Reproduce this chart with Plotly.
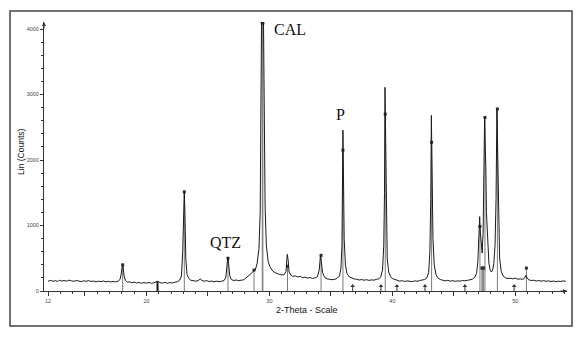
import plotly.graph_objects as go

two_theta = [
    12.0, 12.2, 12.4, 12.6, 12.8, 12.9, 13.1, 13.3, 13.5, 13.7, 13.9, 14.1, 14.3, 14.5, 14.7, 14.9,
    15.1, 15.3, 15.5, 15.7, 15.9, 16.1, 16.3, 16.5, 16.7, 16.9, 17.1, 17.3, 17.5, 17.7, 17.85, 17.95,
    18.05, 18.1, 18.18, 18.3, 18.45, 18.6, 18.8, 19.0, 19.2, 19.4, 19.6, 19.8, 20.0, 20.2, 20.4, 20.6,
    20.8, 20.95, 21.1, 21.3, 21.5, 21.7, 21.9, 22.1, 22.3, 22.5, 22.7, 22.85, 22.95, 23.03, 23.08, 23.13,
    23.2, 23.3, 23.45, 23.6, 23.8, 24.0, 24.2, 24.4, 24.5, 24.7, 24.9, 25.1, 25.3, 25.5, 25.7, 25.9,
    26.1, 26.3, 26.45, 26.55, 26.62, 26.68, 26.78, 26.9, 27.1, 27.3, 27.5, 27.7, 27.9, 28.1, 28.3, 28.5,
    28.65, 28.75, 28.85, 29.0, 29.15, 29.25, 29.32, 29.36, 29.52, 29.57, 29.65, 29.75, 29.9, 30.05, 30.2, 30.4,
    30.6, 30.8, 31.0, 31.2, 31.35, 31.45, 31.52, 31.6, 31.75, 31.9, 32.1, 32.3, 32.5, 32.7, 32.9, 33.1,
    33.3, 33.5, 33.7, 33.9, 34.05, 34.15, 34.22, 34.32, 34.5, 34.7, 34.9, 35.1, 35.3, 35.5, 35.7, 35.82,
    35.9, 35.95, 35.98, 36.02, 36.08, 36.18, 36.3, 36.5, 36.7, 36.9, 37.1, 37.3, 37.5, 37.7, 37.9, 38.1,
    38.3, 38.5, 38.7, 38.9, 39.05, 39.2, 39.3, 39.36, 39.4, 39.44, 39.5, 39.58, 39.7, 39.85, 40.0, 40.2,
    40.4, 40.6, 40.8, 41.0, 41.2, 41.4, 41.6, 41.8, 42.0, 42.2, 42.4, 42.6, 42.8, 42.95, 43.05, 43.12,
    43.17, 43.22, 43.3, 43.4, 43.55, 43.7, 43.9, 44.1, 44.3, 44.5, 44.7, 44.9, 45.1, 45.3, 45.5, 45.7,
    45.9, 46.1, 46.3, 46.5, 46.7, 46.85, 46.95, 47.05, 47.1, 47.15, 47.22, 47.3, 47.38, 47.45, 47.5, 47.55,
    47.6, 47.65, 47.75, 47.85, 47.95, 48.05, 48.15, 48.25, 48.35, 48.43, 48.5, 48.55, 48.62, 48.72, 48.85, 49.0,
    49.2, 49.4, 49.6, 49.8, 50.0, 50.2, 50.4, 50.6, 50.75, 50.85, 50.95, 51.1, 51.3, 51.5, 51.7, 51.9,
    52.1, 52.3, 52.5, 52.7, 52.9, 53.1, 53.3, 53.5, 53.7, 53.9, 54.1,
]
counts = [
    150, 162, 148, 158, 145, 165, 152, 160, 150, 166, 155, 148, 160, 152, 144, 155,
    149, 158, 146, 152, 140, 150, 144, 152, 140, 148, 138, 146, 140, 150, 175, 260,
    405, 380, 230, 160, 135, 140, 128, 136, 122, 130, 118, 128, 120, 130, 118, 126,
    140, 150, 128, 120, 132, 118, 128, 122, 135, 140, 165, 230, 600, 1300, 1515, 1200,
    500, 250, 190, 165, 155, 150, 158, 185, 160, 150, 158, 145, 152, 140, 150, 142,
    150, 158, 200, 380, 520, 420, 230, 175, 160, 168, 158, 165, 170, 200, 230, 265,
    290, 315, 320, 420, 650, 1200, 2500, 4100, 4100, 2600, 1300, 700, 450, 370, 320, 285,
    265, 255, 245, 250, 300, 560, 480, 290, 240, 225, 230, 215, 222, 205, 212, 198,
    205, 192, 200, 215, 320, 540, 450, 280, 205, 185, 178, 172, 178, 192, 230, 350,
    700, 1500, 2455, 1800, 800, 400, 270, 215, 195, 185, 178, 168, 175, 165, 172, 162,
    170, 165, 178, 185, 215, 320, 700, 1500, 3110, 2400, 1100, 500, 290, 220, 190, 175,
    165, 150, 158, 145, 155, 150, 142, 155, 148, 158, 165, 175, 200, 280, 600, 1400,
    2680, 2000, 800, 400, 250, 200, 175, 165, 155, 162, 150, 158, 148, 155, 150, 160,
    155, 162, 170, 180, 210, 270, 450, 900, 1135, 900, 650, 580, 900, 1700, 2650, 2200,
    1900, 1200, 650, 420, 320, 290, 320, 420, 700, 1400, 2780, 2200, 1000, 500, 300, 230,
    200, 190, 195, 185, 195, 180, 185, 178, 195, 240, 200, 170, 160, 165, 152, 160,
    150, 158, 148, 155, 145, 152, 142, 150, 145, 155, 148,
]

# reference sticks with a marker on top
stick_pos = [18.07, 23.08, 26.63, 28.75, 29.42, 29.47, 31.47, 34.2, 35.98, 39.42,
             43.19, 47.12, 47.28, 47.35, 47.42, 47.53, 48.54, 50.9]
stick_height = [400, 1515, 500, 320, 4090, 4090, 380, 545, 2150, 2700,
                2270, 985, 350, 350, 350, 2650, 2780, 350]

# dark stick at 20.9 and small reference arrows along the base
dark_pos = [20.9]
dark_height = [150]
small_pos = [36.77, 39.07, 40.37, 42.65, 45.9, 49.9]
small_height = [75, 75, 75, 75, 75, 75]


def sticks(pos, height):
    xs, ys = [], []
    for p, h in zip(pos, height):
        xs += [p, p, None]
        ys += [0, h, None]
    return xs, ys


fig = go.Figure()

sx, sy = sticks(stick_pos, stick_height)
fig.add_trace(go.Scatter(x=sx, y=sy, mode='lines',
                         line=dict(color='#7a7a7a', width=1), hoverinfo='skip'))
fig.add_trace(go.Scatter(x=stick_pos, y=stick_height, mode='markers',
                         marker=dict(color='#333333', size=3, symbol='square'), hoverinfo='skip'))

dx, dy = sticks(dark_pos, dark_height)
fig.add_trace(go.Scatter(x=dx, y=dy, mode='lines',
                         line=dict(color='#111111', width=2), hoverinfo='skip'))

mx, my = sticks(small_pos, small_height)
fig.add_trace(go.Scatter(x=mx, y=my, mode='lines',
                         line=dict(color='#333333', width=1), hoverinfo='skip'))
fig.add_trace(go.Scatter(x=small_pos, y=small_height, mode='markers',
                         marker=dict(color='#333333', size=4, symbol='triangle-up'), hoverinfo='skip'))

# measured scan
fig.add_trace(go.Scatter(x=two_theta, y=counts, mode='lines',
                         line=dict(color='#1a1a1a', width=1), hoverinfo='skip'))

serif = dict(family='Liberation Serif, Times New Roman, serif', size=16, color='#111111')
fig.add_annotation(x=30.2, y=4000, text='CAL', showarrow=False, xanchor='left', font=serif)
fig.add_annotation(x=26.45, y=740, text='QTZ', showarrow=False, font=serif)
fig.add_annotation(x=35.8, y=2700, text='P', showarrow=False, font=serif)

# axis titles placed by hand (closer to the axes than plotly's standoff allows)
fig.add_annotation(xref='paper', yref='paper', x=-0.044, y=0.517, text='Lin (Counts)',
                   textangle=-90, showarrow=False, xanchor='center', yanchor='middle',
                   font=dict(family='Liberation Sans, Arial, sans-serif', size=8.5, color='#111111'))
fig.add_annotation(xref='paper', yref='paper', x=0.503, y=-0.07, text='2-Theta - Scale',
                   showarrow=False, xanchor='center', yanchor='middle',
                   font=dict(family='Liberation Sans, Arial, sans-serif', size=9, color='#111111'))

# axis arrow heads
fig.add_annotation(x=54.2, y=0, ax=-8, ay=0, showarrow=True, arrowhead=2,
                   arrowsize=0.8, arrowwidth=1, arrowcolor='#333333', text='')
fig.add_annotation(x=11.67, y=4107, ax=0, ay=8, showarrow=True, arrowhead=2,
                   arrowsize=0.8, arrowwidth=1, arrowcolor='#333333', text='')

# outer frame of the figure
fig.add_shape(type='rect', xref='paper', yref='paper',
              x0=-0.065, x1=1.0096, y0=-0.13, y1=1.041,
              line=dict(color='#444444', width=1.5))

tick_font = dict(family='Liberation Sans, Arial, sans-serif', size=5.5, color='#444444')

# the page adds an 8px body margin, so the plot box is pulled up-left by 8px
fig.update_layout(
    width=581, height=338,
    margin=dict(l=36, r=22, t=14, b=55),
    paper_bgcolor='white', plot_bgcolor='white',
    showlegend=False,
    font=dict(family='Liberation Sans, Arial, sans-serif', color='#222222'),
    xaxis=dict(range=[11.67, 54.2], showgrid=False, zeroline=False, automargin=False,
               showline=True, linecolor='#333333', linewidth=1,
               tickvals=[12, 15, 20, 25, 30, 35, 40, 45, 50],
               ticktext=['12', '', '20', '', '30', '', '40', '', '50'],
               ticks='outside', ticklen=4, tickcolor='#333333', tickfont=tick_font,
               minor=dict(dtick=1, ticks='outside', ticklen=2, tickcolor='#333333')),
    yaxis=dict(range=[0, 4107], showgrid=False, zeroline=False, automargin=False,
               showline=True, linecolor='#333333', linewidth=1,
               tickvals=[0, 1000, 2000, 3000, 4000],
               ticks='outside', ticklen=3, tickcolor='#333333', tickfont=tick_font,
               minor=dict(dtick=200, ticks='outside', ticklen=2, tickcolor='#333333')),
)

fig.write_html('out.html')
